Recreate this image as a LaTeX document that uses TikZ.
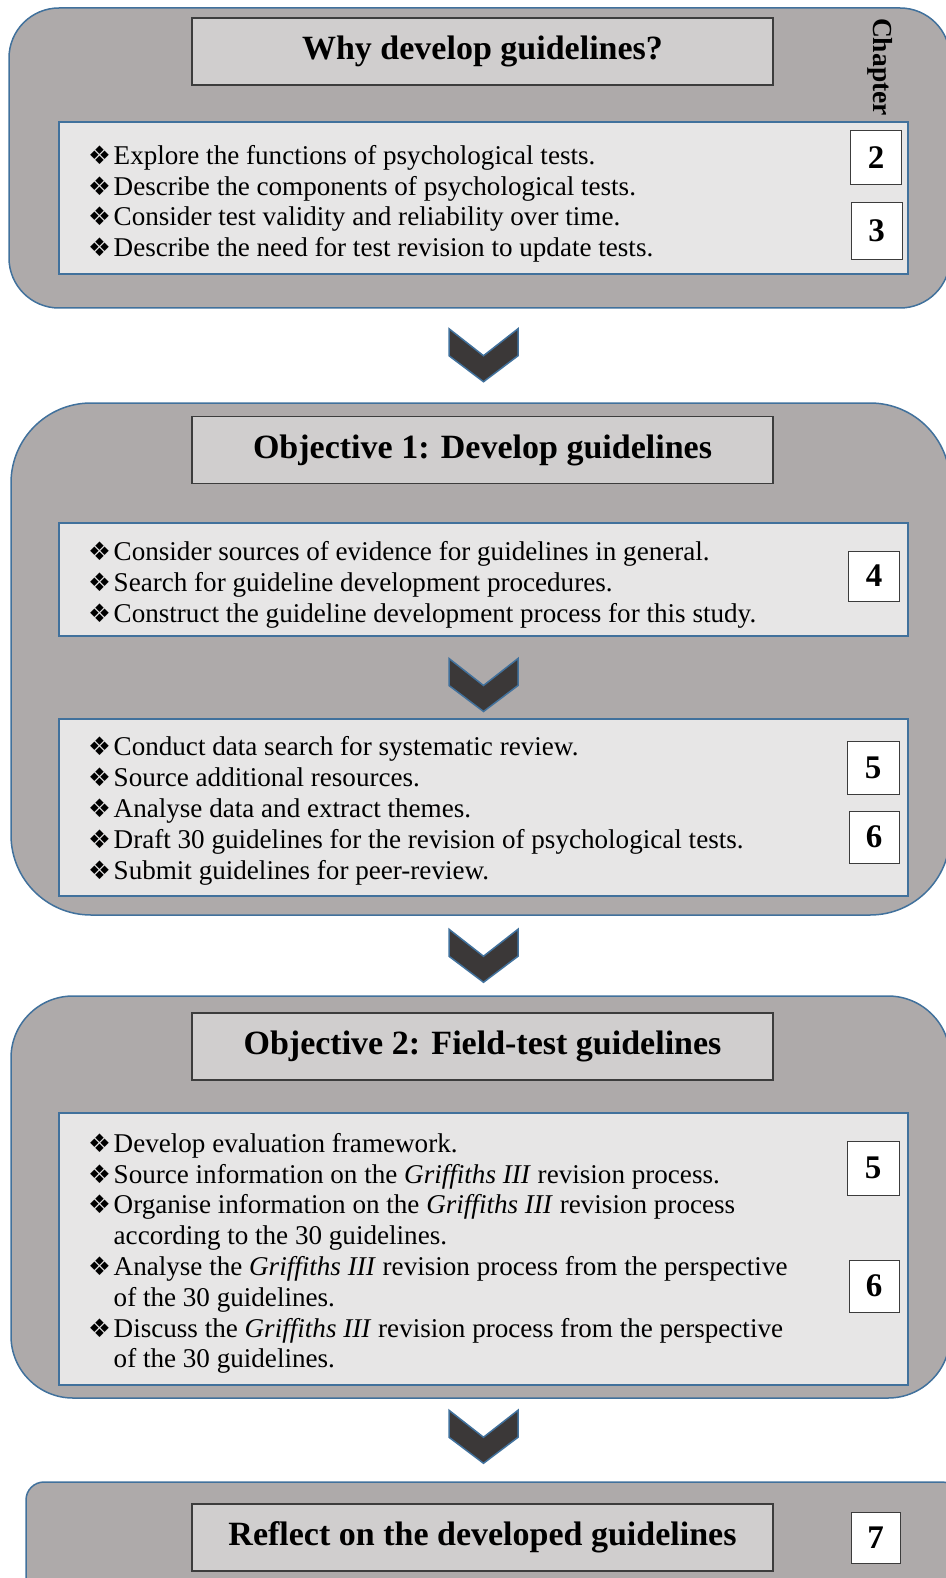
\documentclass[tikz,border=0pt]{standalone}
\usepackage{fontspec}
\setmainfont{Liberation Serif}
\newfontfamily\dingfont{DejaVu Sans}
\newcommand\bul{\makebox[25.5pt][l]{\smash{\dingfont\fontsize{25.5}{25.5}\selectfont ❖}}}
\newcommand\cont{\hspace*{25.5pt}}
\begin{document}
\begin{tikzpicture}[x=1pt,y=-1pt]

\definecolor{BLUE}{RGB}{65,113,156}
\definecolor{PANEL}{RGB}{174,170,170}
\definecolor{TITLE}{RGB}{208,206,206}
\definecolor{INNER}{RGB}{231,230,230}
\definecolor{CHEV}{RGB}{59,56,56}
\definecolor{EDGE}{RGB}{60,60,60}
\tikzset{
	panel/.style={draw=BLUE, line width=1.5, fill=PANEL, inner sep=0},
	titlebox/.style={draw=EDGE, line width=1.2, fill=TITLE, minimum width=581, minimum height=67, inner sep=0, font=\fontsize{34}{40}\selectfont\bfseries},
	listbox/.style={draw=BLUE, line width=2, fill=INNER, minimum width=849, inner sep=0},
	numbox/.style={draw=EDGE, line width=1, fill=white, minimum width=51, minimum height=54, inner sep=0, font=\fontsize{33}{33}\selectfont\bfseries},
	listtext/.style={anchor=north west, inner sep=0, align=left, font=\fontsize{27.1}{30.8}\selectfont},
	chevron/.pic={\draw[BLUE, line width=1.5, fill=CHEV, line join=miter]
		(-34.5,-26.5) -- (0,0.5) -- (34.5,-26.5) -- (34.5,0.5) -- (0,26.5) -- (-34.5,0.5) -- cycle;}
}
\useasboundingbox (0,0) rectangle (945,1578);

\node[panel, rounded corners=50, minimum width=941, minimum height=300] (p1) at (479.5,158) {};
\node[titlebox] (h1) at (482.5,51.5) {Why develop guidelines?};
\node[rotate=-90, inner sep=0, font=\fontsize{27.5}{30}\selectfont\bfseries] (chap) at (880,67) {Chapter};
\node[listbox, minimum height=152] (a1) at (483.5,198) {};
\node[listtext] (ta1) at (88,145) {\bul Explore the functions of psychological tests.\\
	\bul Describe the components of psychological tests.\\
	\bul Consider test validity and reliability over time.\\
	\bul Describe the need for test revision to update tests.};
\node[numbox] (n2) at (876,158) {2};
\node[numbox, minimum height=57] (n3) at (876.5,231) {3};

\node[panel, rounded corners=80, minimum width=939, minimum height=512] (p2) at (480.5,659) {};
\node[titlebox] (h2) at (482.5,450) {Objective 1: Develop guidelines};
\node[listbox, minimum height=113] (b1) at (483.5,579.5) {};
\node[listtext] (tb1) at (88,541.5) {\bul Consider sources of evidence for guidelines in general.\\
	\bul Search for guideline development procedures.\\
	\bul Construct the guideline development process for this study.};
\node[numbox, minimum height=50] (n4) at (874,576) {4};
\node[listbox, minimum height=177] (b2) at (483.5,807.5) {};
\node[listtext] (tb2) at (88,736.7) {\bul Conduct data search for systematic review.\\
	\bul Source additional resources.\\
	\bul Analyse data and extract themes.\\
	\bul Draft 30 guidelines for the revision of psychological tests.\\
	\bul Submit guidelines for peer-review.};
\node[numbox, minimum width=52, minimum height=53] (n5a) at (873,767.5) {5};
\node[numbox, minimum width=50, minimum height=52] (n6a) at (874,837) {6};

\node[panel, rounded corners=62, minimum width=939, minimum height=402] (p3) at (480.5,1197) {};
\node[titlebox] (h3) at (482.5,1046.5) {Objective 2: Field-test guidelines};
\node[listbox, minimum height=272] (c1) at (483.5,1249) {};
\node[listtext] (tc1) at (88,1133) {\bul Develop evaluation framework.\\
	\bul Source information on the \textit{Griffiths III} revision process.\\
	\bul Organise information on the \textit{Griffiths III} revision process\\
	\cont according to the 30 guidelines.\\
	\bul Analyse the \textit{Griffiths III} revision process from the perspective\\
	\cont of the 30 guidelines.\\
	\bul Discuss the \textit{Griffiths III} revision process from the perspective\\
	\cont of the 30 guidelines.};
\node[numbox, minimum width=52] (n5b) at (873,1168) {5};
\node[numbox, minimum width=50, minimum height=52] (n6b) at (874,1286) {6};

\node[panel, rounded corners=18, minimum width=934, minimum height=128] (p4) at (493,1546) {};
\node[titlebox] (h4) at (482.5,1537.5) {Reflect on the developed guidelines};
\node[numbox, minimum width=49, minimum height=51] (n7) at (875.5,1537.5) {7};

\path (p1.south) ++(4,46.5) coordinate (v1);
\path (b1.south) ++(0,48) coordinate (v2);
\path (p2.south) ++(3,40) coordinate (v3);
\path (p3.south) ++(3,38) coordinate (v4);
\foreach \v in {v1,v2,v3,v4}
	\pic at (\v) {chevron};
\end{tikzpicture}
\end{document}
